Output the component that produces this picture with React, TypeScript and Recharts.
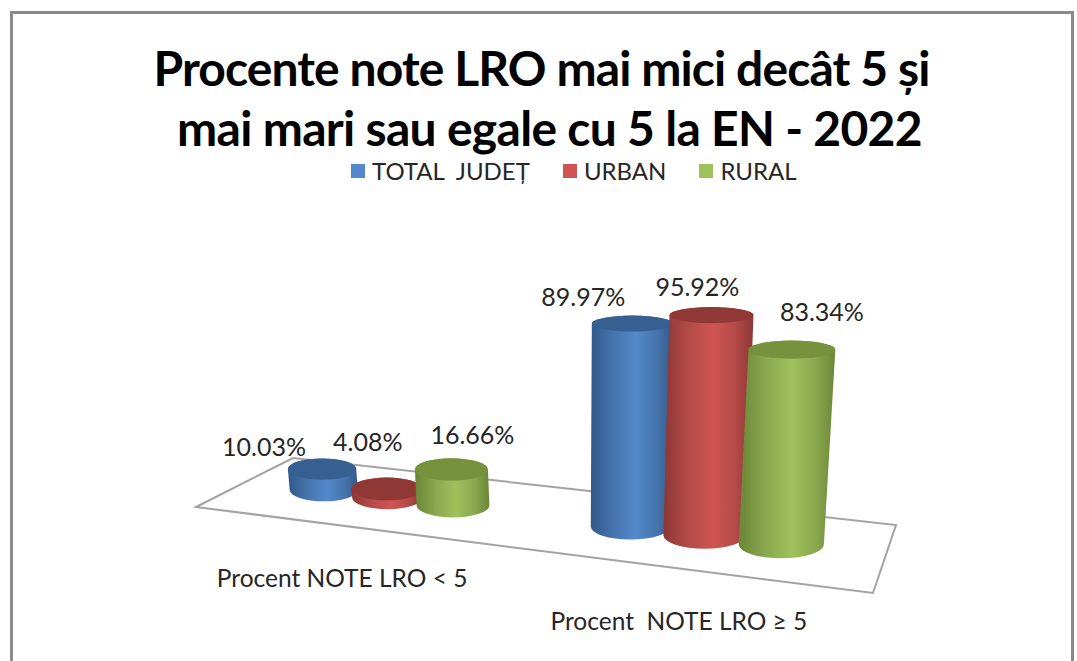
import * as React from "react";
import { BarChart, Bar, XAxis, YAxis, Legend, LabelList, Customized } from "recharts";

// ─── Data ─────────────────────────────────────────────────
const categories = ["Procent NOTE LRO < 5", "Procent  NOTE LRO ≥ 5"];
const totalJudet = [10.03, 89.97];
const urban = [4.08, 95.92];
const rural = [16.66, 83.34];

const tableData = categories.map((name, i) => ({
  name,
  total: totalJudet[i],
  urban: urban[i],
  rural: rural[i],
}));

// ─── Layout ───────────────────────────────────────────────
const WIDTH = 1077;
const HEIGHT = 661;
const PLOT_LEFT = 240;
const PLOT_W = 600;
const PLOT_TOP = 100;
const PLOT_H = 218;
const AXIS_H = 30;
const LEGEND_H = 28; // the legend's box is taken off the plot by Recharts
const BAR_W = 66;
const BAR_U_SHIFT = -0.003;
const FONT = "Lato, 'Open Sans', sans-serif";
const TEXT = "#262626";

// floor corners on screen: front-left, front-right, back-right, back-left
const FLOOR = [[196, 507], [873, 593], [896, 525], [293, 458]];

const SERIES = [
  { key: "total", name: "TOTAL  JUDEȚ", id: "blue", light: "#5388cc", mid: "#4675ad", dark: "#31598a", top: "#376092" },
  { key: "urban", name: "URBAN", id: "red", light: "#cf5552", mid: "#b44a48", dark: "#8c3735", top: "#8f3836" },
  { key: "rural", name: "RURAL", id: "green", light: "#9fc15b", mid: "#8aa84e", dark: "#6a8637", top: "#76923c" },
];

// hand placed data labels, relative to the top of each cylinder
const LABEL_NUDGE: Record<string, number[][]> = {
  total: [[-58, -23], [-49, -28]],
  urban: [[-19, -48], [-14, -29]],
  rural: [[21, -35], [30, -39]],
};

// ─── Floor projection (unit square → screen quad) ─────────
const [[x0, y0], [x1, y1], [x2, y2], [x3, y3]] = FLOOR;
const sx = x0 - x1 + x2 - x3;
const sy = y0 - y1 + y2 - y3;
const det = (x1 - x2) * (y3 - y2) - (x3 - x2) * (y1 - y2);
const g = (sx * (y3 - y2) - (x3 - x2) * sy) / det;
const h = ((x1 - x2) * sy - sx * (y1 - y2)) / det;

function project(u: number, v: number) {
  const w = 1 + g * u + h * v;
  return {
    x: ((x1 - x0 + g * x1) * u + (x3 - x0 + h * x3) * v + x0) / w,
    y: ((y1 - y0 + g * y1) * u + (y3 - y0 + h * y3) * v + y0) / w,
    w,
  };
}

const toU = (px: number) => (px - PLOT_LEFT) / PLOT_W;

// screen geometry of one cylinder, from the rectangle Recharts gives
function cylinder(x: number, width: number, height: number) {
  const u = toU(x + width / 2) + BAR_U_SHIFT;
  const r = (width / PLOT_W) * 0.545;
  const base = project(u, 0.5);
  const rxB = (project(u + r, 0.5).x - project(u - r, 0.5).x) / 2;
  const hPx = height / base.w;
  const ryB = rxB * 0.33;
  return {
    bx: base.x,
    by: base.y,
    rxB,
    ryB,
    tx: base.x + hPx * (base.x - 600) * 0.0003,
    ty: base.y - hPx,
    rxT: rxB * (1 + hPx * 0.0001),
    ryT: ryB - hPx * 0.025,
  };
}

// ─── Shapes ───────────────────────────────────────────────
function Cylinder(props: any) {
  const { x, width, height, seriesId, topColor } = props;
  const c = cylinder(x, width, height);
  const d = [
    `M ${c.tx - c.rxT} ${c.ty}`,
    `L ${c.bx - c.rxB} ${c.by}`,
    `A ${c.rxB} ${c.ryB} 0 0 0 ${c.bx + c.rxB} ${c.by}`,
    `L ${c.tx + c.rxT} ${c.ty}`,
    `A ${c.rxT} ${c.ryT} 0 0 0 ${c.tx - c.rxT} ${c.ty}`,
    "Z",
  ].join(" ");
  return (
    <g>
      <path d={ d } fill={ `url(#cyl-${seriesId})` } />
      <ellipse cx={ c.tx } cy={ c.ty } rx={ c.rxT } ry={ c.ryT } fill={ topColor } />
    </g>
  );
}

function ValueLabel(props: any) {
  const { x, width, height, value, index, seriesKey } = props;
  const c = cylinder(x, width, height);
  const [dx, dy] = LABEL_NUDGE[seriesKey][index];
  return (
    <text
      x={ c.tx + dx }
      y={ c.ty + dy }
      textAnchor="middle"
      dominantBaseline="central"
      fontFamily={ FONT }
      fontSize={ 25 }
      fill={ TEXT }
    >
      { `${Number(value).toFixed(2)}%` }
    </text>
  );
}

function CategoryTick(props: any) {
  const { x, payload } = props;
  const p = project(toU(x), 0);
  return (
    <text
      x={ p.x - 3 }
      y={ p.y + 52 }
      textAnchor="middle"
      dominantBaseline="central"
      fontFamily={ FONT }
      fontSize={ 24.5 }
      fill={ TEXT }
      style={ { whiteSpace: "pre" } }
    >
      { payload.value }
    </text>
  );
}

function Floor() {
  return (
    <polygon
      points={ FLOOR.map((p) => p.join(",")).join(" ") }
      fill="none"
      stroke="#a3a3a3"
      strokeWidth={ 2 }
    />
  );
}

function LegendRow({ payload }: any) {
  return (
    <div style={ { display: "flex", gap: 33, fontFamily: FONT, fontSize: 24, color: TEXT, lineHeight: `${LEGEND_H}px` } }>
      { (payload ?? []).map((entry: any) => (
        <div key={ entry.value } style={ { display: "flex", alignItems: "center", gap: 7, whiteSpace: "pre" } }>
          <span style={ { width: 14, height: 14, background: entry.color, display: "inline-block" } } />
          <span>{ entry.value }</span>
        </div>
      )) }
    </div>
  );
}

// ─── App ──────────────────────────────────────────────────
export default function App() {
  return (
    <div style={ { position: "absolute", left: 0, top: 0, width: WIDTH, height: HEIGHT, overflow: "hidden", background: "#fff" } }>
      <div style={ { position: "absolute", left: 10, top: 11, width: 1058, height: 700, border: "3px solid #8a8a8a" } } />
      <div
        style={ {
          position: "absolute",
          left: 0,
          top: 38,
          width: 1083,
          textAlign: "center",
          fontFamily: FONT,
          fontWeight: 700,
          fontSize: 48,
          letterSpacing: -0.9,
          lineHeight: "60px",
          color: "#000",
        } }
      >
        Procente note LRO mai mici decât 5 și
        <br />
        <span style={ { marginLeft: 16, letterSpacing: -0.7 } }>mai mari sau egale cu 5 la EN - 2022</span>
      </div>
      <div style={ { position: "absolute", left: 0, top: 0 } }>
        <BarChart
          width={ WIDTH }
          height={ HEIGHT }
          data={ tableData }
          barGap={ 0 }
          barSize={ BAR_W }
          margin={ { top: PLOT_TOP, left: PLOT_LEFT, right: WIDTH - PLOT_LEFT - PLOT_W, bottom: HEIGHT - PLOT_TOP - PLOT_H - AXIS_H - LEGEND_H } }
        >
          <defs>
            { SERIES.map((s) => (
              <linearGradient key={ s.id } id={ `cyl-${s.id}` } x1="0" y1="0" x2="1" y2="0">
                <stop offset="0%" stopColor={ s.dark } />
                <stop offset="28%" stopColor={ s.mid } />
                <stop offset="55%" stopColor={ s.light } />
                <stop offset="80%" stopColor={ s.mid } />
                <stop offset="100%" stopColor={ s.dark } />
              </linearGradient>
            )) }
          </defs>
          <Customized component={ Floor } />
          <XAxis
            dataKey="name"
            height={ AXIS_H }
            axisLine={ false }
            tickLine={ false }
            interval={ 0 }
            tick={ (p: any) => <CategoryTick { ...p } /> }
          />
          <YAxis hide domain={ [0, 100] } />
          <Legend
            itemSorter={ null }
            content={ (p: any) => <LegendRow { ...p } /> }
            wrapperStyle={ { position: "absolute", left: 351, top: 157, width: "auto", bottom: "auto" } }
          />
          { SERIES.map((s) => (
            <Bar
              key={ s.key }
              dataKey={ s.key }
              name={ s.name }
              fill={ s.light }
              isAnimationActive={ false }
              shape={ (p: any) => <Cylinder { ...p } seriesId={ s.id } topColor={ s.top } /> }
            >
              <LabelList
                dataKey={ s.key }
                content={ (p: any) => <ValueLabel { ...p } seriesKey={ s.key } /> }
              />
            </Bar>
          )) }
        </BarChart>
      </div>
    </div>
  );
}
